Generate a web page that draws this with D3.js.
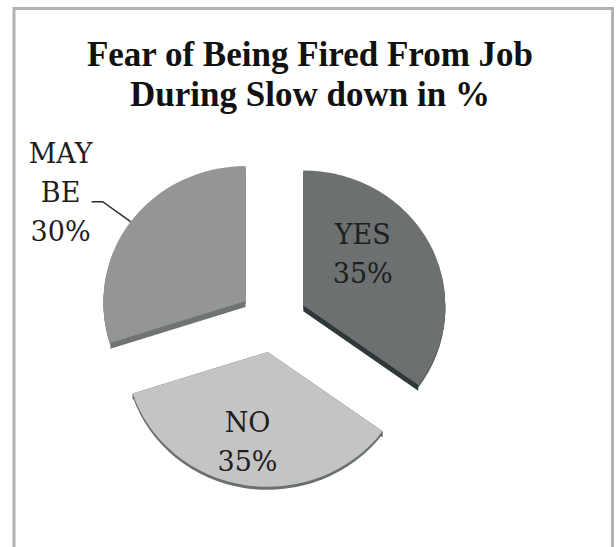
<!DOCTYPE html>
<html>
<head>
<meta charset="utf-8">
<script src="https://cdn.jsdelivr.net/npm/d3@7"></script>
<style>
  html, body { margin: 0; padding: 0; background: #fff; }
  svg { display: block; }
</style>
</head>
<body>
<svg id="chart" width="616" height="547"></svg>
<script>
// ---- data ----
const titleLines = ["Fear of Being Fired From Job", "During Slow down in %"];
const categories = ["YES", "NO", "MAY BE"];
const shares = [35, 35, 30];

// ---- styling ----
const topColors  = ["#6c7070", "#c4c4c4", "#949595"];
const rimColors  = ["#5f6464", "#6a7070", "#858888"];
const cutColors  = ["#2e3838", "#5a6060", "#707373"];

const svg = d3.select("#chart");

// frame
svg.append("rect")
  .attr("x", 14).attr("y", 8.5)
  .attr("width", 598.5).attr("height", 580)
  .attr("fill", "#fff")
  .attr("stroke", "#b2b2b2")
  .attr("stroke-width", 3);

// title
const title = svg.append("text")
  .attr("text-anchor", "middle")
  .attr("font-family", "'Liberation Serif', 'Times New Roman', serif")
  .attr("font-weight", "bold")
  .attr("font-size", 35)
  .attr("fill", "#111");
titleLines.forEach((line, i) => {
  title.append("tspan").attr("x", 310).attr("y", 66 + i * 40).text(line);
});

// ---- tilted, exploded pie ----
const cx = 273, cy = 320;
const R = 142, tilt = 0.95, explode = 34;
const rimDepth = 3, cutDepth = 6;

const pie = d3.pie().sort(null).value(d => d).startAngle(0).endAngle(2 * Math.PI);
const arcs = pie(shares);
const arc = d3.arc().innerRadius(0).outerRadius(R);

// point on the tilted disc at angle a (clockwise from 12 o'clock), radius r
const pt = (a, r) => [r * Math.sin(a), -r * Math.cos(a) * tilt];
const rad = deg => deg * Math.PI / 180;

const labelFont = "'DejaVu Serif', serif";
const labelSize = 27, lineGap = 39;

// inside label placement: polar offset from each slice's apex
const insideLabel = { "YES": { angle: 48, dist: 80 }, "NO": { angle: 192, dist: 97 } };

arcs.forEach((p, i) => {
  const mid = (p.startAngle + p.endAngle) / 2;
  const [ox, oy] = pt(mid, explode);
  const ax = cx + ox, ay = cy + oy;
  const g = svg.append("g").attr("transform", `translate(${ax},${ay})`);

  // outer rim (stacked copies of the face, shifted downward)
  for (let t = rimDepth; t >= 1; t--) {
    g.append("path")
      .attr("d", arc(p))
      .attr("transform", `translate(0,${t}) scale(1,${tilt})`)
      .attr("fill", rimColors[i]);
  }
  // radial cut faces
  [p.startAngle, p.endAngle].forEach(a => {
    const [ex, ey] = pt(a, R);
    g.append("path")
      .attr("d", `M0,0L${ex},${ey}L${ex},${ey + cutDepth}L0,${cutDepth}Z`)
      .attr("fill", cutColors[i]);
  });
  // top face
  g.append("path")
    .attr("d", arc(p))
    .attr("transform", `scale(1,${tilt})`)
    .attr("fill", topColors[i]);

  const pct = Math.round(p.value) + "%";
  const cat = categories[i];

  if (insideLabel[cat]) {
    const L = insideLabel[cat];
    const [lx, ly] = pt(rad(L.angle), L.dist);
    const t = g.append("text")
      .attr("text-anchor", "middle")
      .attr("font-family", labelFont)
      .attr("font-size", labelSize)
      .attr("fill", "#1e1e1e");
    [cat, pct].forEach((s, j) => {
      t.append("tspan").attr("x", lx).attr("y", ly - 10 + j * lineGap).text(s);
    });
  } else {
    // outside label with a leader line
    const [px, py] = pt(mid, R);
    const start = [ax + px, ay + py];
    const elbow = [start[0] - 28, start[1] - 20];
    const end = [elbow[0] - 11, elbow[1]];
    svg.append("path")
      .attr("d", d3.line()([start, elbow, end]))
      .attr("fill", "none")
      .attr("stroke", "#2a2a2a")
      .attr("stroke-width", 1.5);
    const lines = cat.split(" ").concat([pct]);
    const t = svg.append("text")
      .attr("text-anchor", "middle")
      .attr("font-family", labelFont)
      .attr("font-size", labelSize)
      .attr("fill", "#1e1e1e");
    lines.forEach((s, j) => {
      t.append("tspan")
        .attr("x", end[0] - 31)
        .attr("y", end[1] + (j - 1) * lineGap)
        .text(s);
    });
  }
});
</script>
</body>
</html>
